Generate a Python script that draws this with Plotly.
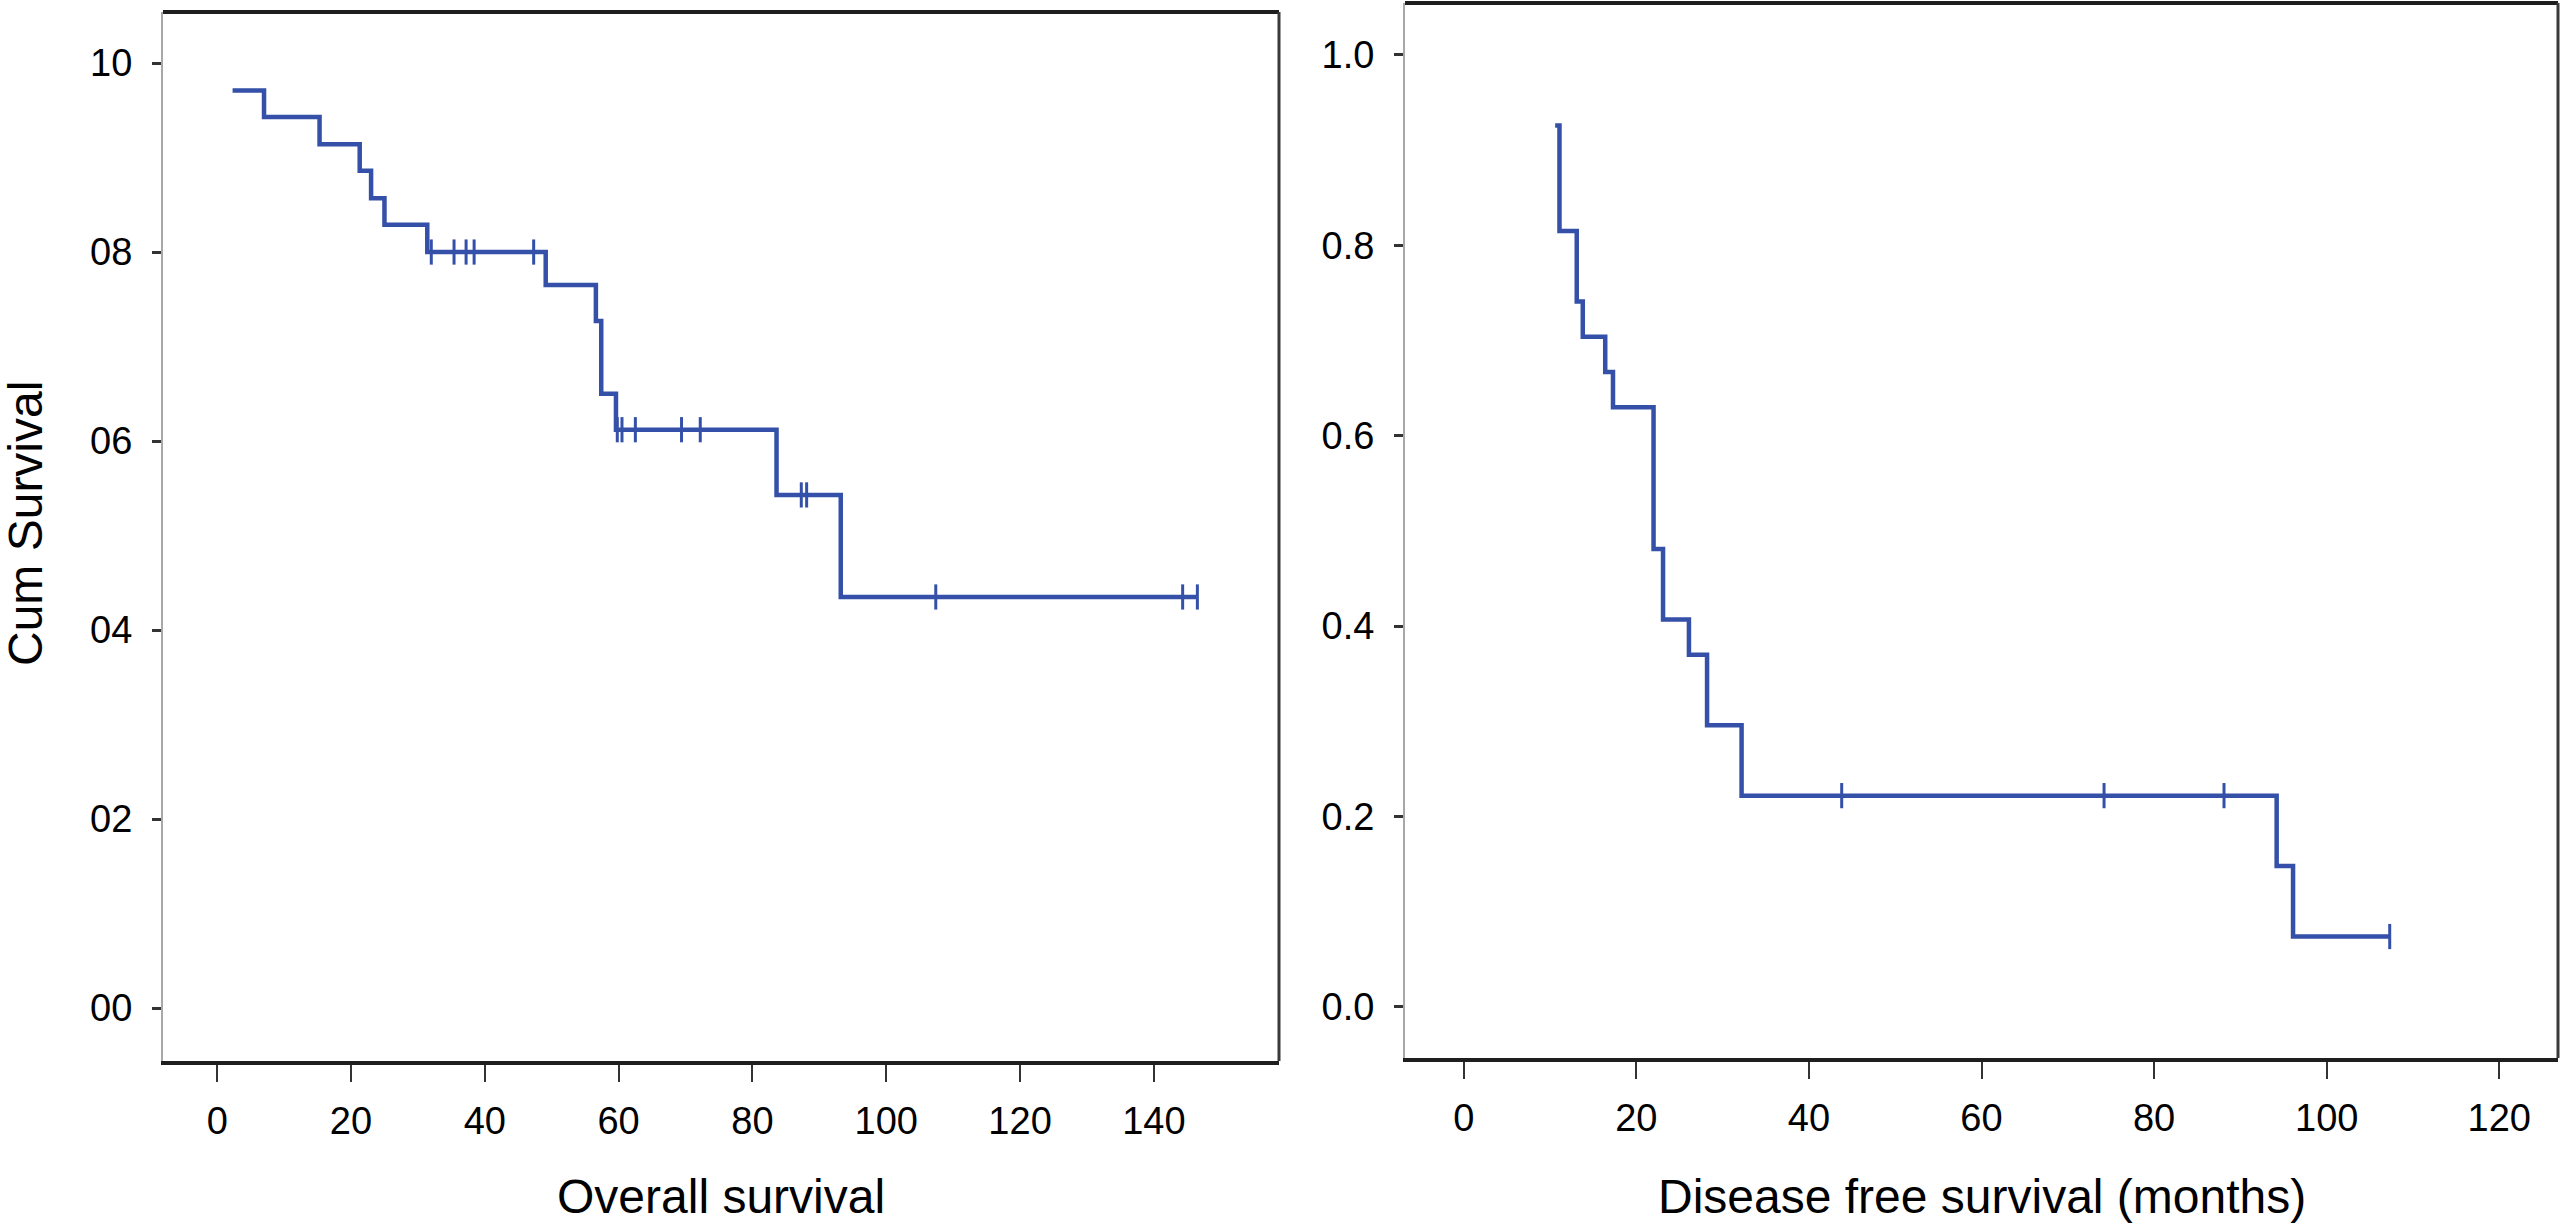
import numpy as np
import plotly.graph_objects as go

# ---------------- data ----------------
# Overall survival (left panel)
os_times = [2.3, 7.0, 15.3, 21.3, 23.0, 25.0, 31.4, 49.1, 56.6, 57.4, 59.6, 83.6, 93.2, 146.5]
os_surv = [0.971, 0.943, 0.914, 0.886, 0.857, 0.829, 0.800, 0.765, 0.727, 0.650, 0.612, 0.543, 0.435, 0.435]
os_censor = [32.0, 35.4, 37.2, 38.4, 47.3, 59.8, 60.5, 62.5, 69.4, 72.2, 87.3, 88.1, 107.4, 144.3, 146.5]

# Disease free survival (right panel)
dfs_times = [10.6, 11.1, 13.1, 13.8, 16.4, 17.3, 22.0, 23.1, 26.1, 28.2, 32.2, 94.2, 96.1, 107.3]
dfs_surv = [0.926, 0.815, 0.741, 0.704, 0.667, 0.630, 0.481, 0.407, 0.370, 0.296, 0.222, 0.148, 0.074, 0.074]
dfs_censor = [43.8, 74.2, 88.1, 107.3]

y_tickvals = [0.0, 0.2, 0.4, 0.6, 0.8, 1.0]
os_ticktext = ["00", "02", "04", "06", "08", "10"]
dfs_ticktext = ["0.0", "0.2", "0.4", "0.6", "0.8", "1.0"]
os_xticks = [0, 20, 40, 60, 80, 100, 120, 140]
dfs_xticks = [0, 20, 40, 60, 80, 100, 120]

os_xtitle = "Overall survival"
dfs_xtitle = "Disease free survival (months)"
ytitle = "Cum Survival"


def level_at(times, surv, t):
    idx = np.searchsorted(np.array(times), t, side="right") - 1
    idx = np.clip(idx, 0, len(surv) - 1)
    return [surv[i] for i in np.atleast_1d(idx)]


# ---------------- styling ----------------
W, H = 2563, 1224
BLUE = "#3450a8"
FONT = "Liberation Sans, Arial, Helvetica, sans-serif"
TICK_FS = 38
TITLE_FS = 48

# plot areas in page pixels: (left, right, top, bottom)
L_AREA = (163, 1279, 12, 1061)
R_AREA = (1405, 2558, 3, 1058)


def dom_x(a):
    return [a[0] / W, a[1] / W]


def dom_y(a):
    return [(H - a[3]) / H, (H - a[2]) / H]


fig = go.Figure()

# Left KM curve
fig.add_trace(go.Scatter(x=os_times, y=os_surv, mode="lines", line=dict(color=BLUE, width=4.5, shape="hv"),
                         xaxis="x", yaxis="y", showlegend=False, hoverinfo="skip"))
fig.add_trace(go.Scatter(x=os_censor, y=level_at(os_times, os_surv, os_censor), mode="markers",
                         marker=dict(symbol="line-ns", size=18, line=dict(color=BLUE, width=3)),
                         xaxis="x", yaxis="y", showlegend=False, hoverinfo="skip"))

# Right KM curve
fig.add_trace(go.Scatter(x=dfs_times, y=dfs_surv, mode="lines", line=dict(color=BLUE, width=4.5, shape="hv"),
                         xaxis="x2", yaxis="y2", showlegend=False, hoverinfo="skip"))
fig.add_trace(go.Scatter(x=dfs_censor, y=level_at(dfs_times, dfs_surv, dfs_censor), mode="markers",
                         marker=dict(symbol="line-ns", size=18, line=dict(color=BLUE, width=3)),
                         xaxis="x2", yaxis="y2", showlegend=False, hoverinfo="skip"))

xcommon = dict(showgrid=False, zeroline=False, showline=True, linecolor="#1e1e1e", linewidth=4,
               ticks="outside", ticklen=17, tickwidth=1.5, tickcolor="#333",
               tickfont=dict(family=FONT, size=TICK_FS, color="#000"), ticklabelstandoff=6)
ycommon = dict(showgrid=False, zeroline=False, showline=True, linecolor="#a8a8a8", linewidth=2,
               ticks="outside", ticklen=9, tickwidth=3, tickcolor="#333",
               tickfont=dict(family=FONT, size=TICK_FS, color="#000"), ticklabelstandoff=12,
               tickvals=y_tickvals)

fig.update_layout(
    width=W, height=H, margin=dict(l=0, r=0, t=0, b=0),
    paper_bgcolor="white", plot_bgcolor="white",
    font=dict(family=FONT, color="#000"),
    xaxis=dict(domain=dom_x(L_AREA), range=[-8.1, 158.7], tickvals=os_xticks, anchor="y", **xcommon),
    yaxis=dict(domain=dom_y(L_AREA), range=[-0.056, 1.054], ticktext=os_ticktext, anchor="x", **ycommon),
    xaxis2=dict(domain=dom_x(R_AREA), range=[-6.8, 126.8], tickvals=dfs_xticks, anchor="y2", **xcommon),
    yaxis2=dict(domain=dom_y(R_AREA), range=[-0.0536, 1.0546], ticktext=dfs_ticktext, anchor="x2", **ycommon),
)

# frame: thick top line and dark right line for each panel
for xa, ya in (("x", "y"), ("x2", "y2")):
    fig.add_shape(type="line", xref=f"{xa} domain", yref=f"{ya} domain", x0=0, x1=1, y0=1, y1=1,
                  line=dict(color="#1e1e1e", width=4))
    fig.add_shape(type="line", xref=f"{xa} domain", yref=f"{ya} domain", x0=1, x1=1, y0=0, y1=1,
                  line=dict(color="#3a3a3a", width=3))

# axis titles as annotations
fig.add_annotation(text=os_xtitle, xref="x domain", yref="paper", x=0.5, y=(H - 1196) / H,
                   showarrow=False, font=dict(family=FONT, size=TITLE_FS, color="#000"), yanchor="middle")
fig.add_annotation(text=dfs_xtitle, xref="x2 domain", yref="paper", x=0.5, y=(H - 1196) / H,
                   showarrow=False, font=dict(family=FONT, size=TITLE_FS, color="#000"), yanchor="middle")
fig.add_annotation(text=ytitle, xref="paper", yref="paper", x=25 / W, y=(H - 524) / H, textangle=-90,
                   showarrow=False, font=dict(family=FONT, size=TITLE_FS, color="#000"),
                   xanchor="center", yanchor="middle")

fig.write_html("out.html", config={"displayModeBar": False},
               post_script="document.body.style.margin='0';")
